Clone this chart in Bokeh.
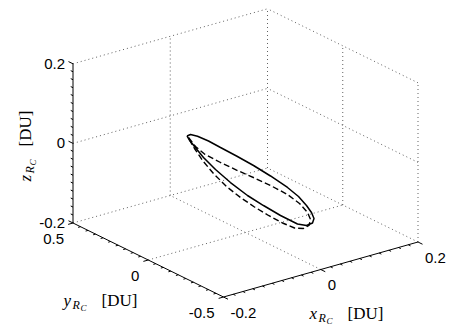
import numpy as np
from bokeh.plotting import figure
from bokeh.models import Range1d
from bokeh.embed import file_html
from bokeh.resources import INLINE
from bokeh.core.properties import value

# ---- axis limits and ticks (DU) ----
x_lim = [-0.2, 0.2]
y_lim = [-0.5, 0.5]
z_lim = [-0.2, 0.2]
x_ticks = [-0.2, 0.0, 0.2]
y_ticks = [0.5, 0.0, -0.5]
z_ticks = [0.2, 0.0, -0.2]
x_tick_labels = ["-0.2", "0", "0.2"]
y_tick_labels = ["0.5", "0", "-0.5"]
z_tick_labels = ["0.2", "0", "-0.2"]
x_minor_step = 0.02
y_minor_step = 0.05
z_minor_step = 0.02

# ---- relative trajectory in the R_C frame (DU) ----
solid_x = [-0.1822, -0.1750, -0.1606, -0.1380, -0.1133, -0.0804, -0.0454, -0.0105,
           0.0245, 0.0471, 0.0635, 0.0738, 0.0790, 0.0759, 0.0635, 0.0450,
           0.0101, -0.0249, -0.0578, -0.0928, -0.1236, -0.1483, -0.1668, -0.1781,
           -0.1822]
solid_y = [-0.20, -0.20, -0.20, -0.20, -0.20, -0.20, -0.20, -0.20,
           -0.20, -0.20, -0.20, -0.20, -0.20, -0.20, -0.20, -0.20,
           -0.20, -0.20, -0.20, -0.20, -0.20, -0.20, -0.20, -0.20,
           -0.20]
solid_z = [0.1426, 0.1439, 0.1344, 0.1148, 0.0899, 0.0572, 0.0212, -0.0172,
           -0.0582, -0.0886, -0.1169, -0.1381, -0.1549, -0.1652, -0.1672, -0.1570,
           -0.1236, -0.0864, -0.0499, -0.0052, 0.0382, 0.0769, 0.1109, 0.1324,
           0.1426]

dashed_x = [-0.1791, -0.1647, -0.1462, -0.1133, -0.0784, -0.0434, -0.0084, 0.0245,
            0.0492, 0.0656, 0.0718, 0.0687, 0.0574, 0.0389, 0.0142, -0.0146,
            -0.0434, -0.0722, -0.1010, -0.1277, -0.1503, -0.1668, -0.1760, -0.1791]
dashed_y = [-0.20, -0.20, -0.20, -0.20, -0.20, -0.20, -0.20, -0.20,
            -0.20, -0.20, -0.20, -0.20, -0.20, -0.20, -0.20, -0.20,
            -0.20, -0.20, -0.20, -0.20, -0.20, -0.20, -0.20, -0.20]
dashed_z = [0.1378, 0.1102, 0.0849, 0.0522, 0.0200, -0.0109, -0.0431, -0.0758,
            -0.1069, -0.1352, -0.1549, -0.1689, -0.1726, -0.1649, -0.1438, -0.1150,
            -0.0837, -0.0499, -0.0124, 0.0295, 0.0700, 0.1059, 0.1279, 0.1378]

W, H = 453, 327

# orthographic view: screen offset of the origin and screen vectors per unit
ORIGIN = (245.0, 152.4)
EX = (486.25, -137.5)
EY = (-150.5, -74.0)
EZ = (0.0, -398.0)


def proj(x, y, z):
    x = np.asarray(x, float)
    y = np.asarray(y, float)
    z = np.asarray(z, float)
    sx = ORIGIN[0] + EX[0] * x + EY[0] * y + EZ[0] * z
    sy = ORIGIN[1] + EX[1] * x + EY[1] * y + EZ[1] * z
    return sx, H - sy


p = figure(width=W, height=H, output_backend="svg", toolbar_location=None,
           x_range=Range1d(0, W), y_range=Range1d(0, H), min_border=0)
p.axis.visible = False
p.grid.visible = False
p.outline_line_color = None
p.background_fill_color = "white"
p.border_fill_color = "white"

x0, x1 = x_lim
y0, y1 = y_lim
z0, z1 = z_lim


def seg(a, b, **kw):
    sx, sy = proj([a[0], b[0]], [a[1], b[1]], [a[2], b[2]])
    p.line(sx, sy, **kw)


# ---- dotted grid on the back planes ----
grid_kw = dict(line_color="#3a3a3a", line_width=1, line_dash="1 3", line_alpha=0.8)
for xv in [x_ticks[1], x1]:
    seg((xv, y0, z0), (xv, y1, z0), **grid_kw)        # floor
    seg((xv, y1, z0), (xv, y1, z1), **grid_kw)        # back wall y = max
for yv in [y_ticks[1], y1]:
    seg((x0, yv, z0), (x1, yv, z0), **grid_kw)        # floor
for yv in [y0, y_ticks[1]]:
    seg((x1, yv, z0), (x1, yv, z1), **grid_kw)        # side wall x = max
for zv in [z_ticks[1], z1]:
    seg((x0, y1, zv), (x1, y1, zv), **grid_kw)
    seg((x1, y0, zv), (x1, y1, zv), **grid_kw)

# ---- axis lines ----
ax_kw = dict(line_color="black", line_width=1)
seg((x0, y0, z0), (x1, y0, z0), **ax_kw)   # x axis
seg((x0, y0, z0), (x0, y1, z0), **ax_kw)   # y axis
seg((x0, y1, z0), (x0, y1, z1), **ax_kw)   # z axis

# ---- tick marks ----
maj_y = 0.03      # tick length along y (DU)
maj_x = 0.0100    # tick length along x (DU)


def frange(a, b, step):
    n = int(round((b - a) / step))
    return [a + i * step for i in range(n + 1)]


for xv in frange(x0, x1, x_minor_step):
    major = any(abs(xv - t) < 1e-9 for t in x_ticks)
    L = maj_y if major else maj_y * 0.5
    seg((xv, y0, z0), (xv, y0 - L, z0), **ax_kw)
for yv in frange(y0, y1, y_minor_step):
    major = any(abs(yv - t) < 1e-9 for t in y_ticks)
    L = maj_x if major else maj_x * 0.5
    seg((x0, yv, z0), (x0 - L, yv, z0), **ax_kw)
for zv in frange(z0, z1, z_minor_step):
    major = any(abs(zv - t) < 1e-9 for t in z_ticks)
    L = maj_y if major else maj_y * 0.5
    seg((x0, y1, zv), (x0, y1 + L, zv), **ax_kw)

# ---- trajectories ----
sx, sy = proj(solid_x, solid_y, solid_z)
p.line(sx, sy, line_color="black", line_width=1.5)
dx, dy = proj(dashed_x, dashed_y, dashed_z)
p.line(dx, dy, line_color="black", line_width=1.4, line_dash="6 3")

# ---- tick labels ----
tick_font = value("Liberation Sans")
tick_size = "15px"

tx, ty = proj([x0] * 3, [y1] * 3, z_ticks)
p.text(tx - 8, ty, text=z_tick_labels, text_font=tick_font, text_font_size=tick_size,
       text_align="right", text_baseline="middle", text_color="black")

tx, ty = proj([x0] * 3, y_ticks, [z0] * 3)
p.text(tx - 9, ty - 16, text=y_tick_labels, text_font=tick_font, text_font_size=tick_size,
       text_align="right", text_baseline="middle", text_color="black")

tx, ty = proj(x_ticks, [y0] * 3, [z0] * 3)
p.text(tx + 7, ty - 15.5, text=x_tick_labels, text_font=tick_font, text_font_size=tick_size,
       text_align="left", text_baseline="middle", text_color="black")

# ---- axis titles: italic symbol with nested subscripts, then the unit ----
serif = value("Liberation Serif")


def piece(x, y_screen, txt, size, style, angle=0.0):
    p.text([x], [H - y_screen], text=[txt], text_font=serif, text_font_size=size,
           text_font_style=style, text_align="left", text_baseline="alphabetic",
           angle=angle, text_color="black")


def flat_title(x, base, sym):
    piece(x, base, sym, "17px", "italic")
    piece(x + 9, base + 4, "R", "12px", "italic")
    piece(x + 17, base + 7, "C", "9px", "italic")
    piece(x + 38, base, "[DU]", "17px", "normal")


flat_title(309, 313, "x")
flat_title(63, 300, "y")

# vertical title for z (reads bottom to top)
zb = 25
piece(zb, 181, "z", "17px", "italic", np.pi / 2)
piece(zb + 4, 173, "R", "12px", "italic", np.pi / 2)
piece(zb + 7, 165, "C", "9px", "italic", np.pi / 2)
piece(zb, 146, "[DU]", "17px", "normal", np.pi / 2)

open("out.html", "w").write(file_html(p, INLINE))
